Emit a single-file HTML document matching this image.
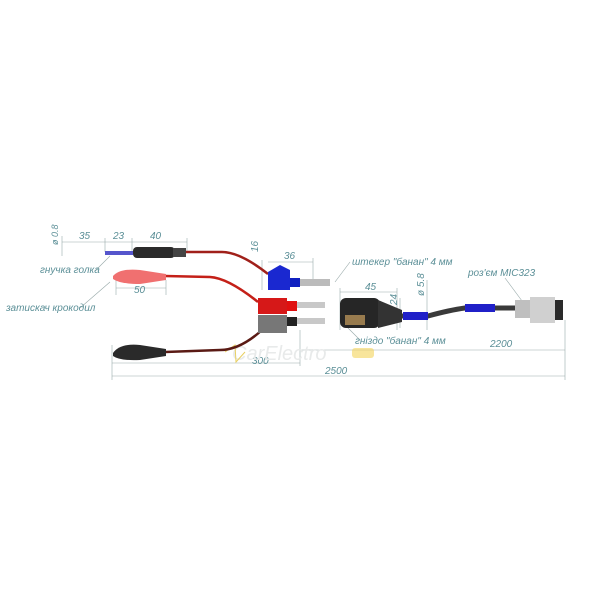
<!DOCTYPE html>
<html><head><meta charset="utf-8"><style>
body{margin:0;background:#fff}
svg{display:block}
text{font-family:"Liberation Sans","DejaVu Sans",sans-serif;font-style:italic;fill:#5b8f97}
</style></head><body>
<svg width="600" height="600" viewBox="0 0 600 600" xmlns="http://www.w3.org/2000/svg">
<g stroke="#9aa" stroke-width="0.6" fill="none">
<line x1="62" y1="242" x2="187" y2="242"/>
<line x1="62" y1="236" x2="62" y2="256"/><line x1="105" y1="238" x2="105" y2="252"/><line x1="132" y1="238" x2="132" y2="252"/><line x1="187" y1="238" x2="187" y2="252"/>
<line x1="116" y1="288" x2="166" y2="288"/><line x1="116" y1="280" x2="116" y2="295"/><line x1="166" y1="280" x2="166" y2="295"/>
<line x1="262" y1="260" x2="262" y2="290"/>
<line x1="268" y1="262" x2="313" y2="262"/><line x1="313" y1="258" x2="313" y2="282"/>
<line x1="340" y1="292" x2="397" y2="292"/><line x1="340" y1="288" x2="340" y2="330"/><line x1="397" y1="288" x2="397" y2="330"/>
<line x1="400" y1="298" x2="400" y2="328"/>
<line x1="427" y1="280" x2="427" y2="330"/>
<line x1="112" y1="363" x2="300" y2="363"/><line x1="300" y1="330" x2="300" y2="366"/>
<line x1="112" y1="345" x2="112" y2="380"/>
<line x1="300" y1="350" x2="565" y2="350"/>
<line x1="112" y1="376" x2="565" y2="376"/><line x1="565" y1="320" x2="565" y2="380"/>
<line x1="95" y1="271" x2="110" y2="256"/><line x1="80" y1="308" x2="110" y2="282"/>
<line x1="350" y1="262" x2="335" y2="282"/><line x1="360" y1="340" x2="345" y2="325"/><line x1="505" y1="278" x2="525" y2="305"/>
</g>
<text x="79" y="239" font-size="10">35</text><text x="113" y="239" font-size="10">23</text><text x="150" y="239" font-size="10">40</text>
<text x="0" y="0" font-size="9" transform="translate(58,245) rotate(-90)">ø 0.8</text>
<text x="134" y="293" font-size="10">50</text>
<text x="0" y="0" font-size="10" transform="translate(258,252) rotate(-90)">16</text>
<text x="284" y="259" font-size="10">36</text>
<text x="365" y="290" font-size="10">45</text>
<text x="0" y="0" font-size="10" transform="translate(397,305) rotate(-90)">24</text>
<text x="0" y="0" font-size="10" transform="translate(424,296) rotate(-90)">ø 5.8</text>
<text x="252" y="364" font-size="10">300</text>
<text x="490" y="347" font-size="10">2200</text>
<text x="325" y="374" font-size="10">2500</text>
<text x="40" y="273" font-size="10">гнучка голка</text>
<text x="6" y="311" font-size="10">затискач крокодил</text>
<text x="352" y="265" font-size="10">штекер "банан" 4 мм</text>
<text x="468" y="276" font-size="10">роз'єм MIC323</text>
<text x="355" y="344" font-size="10">гніздо "банан" 4 мм</text>
<text x="232" y="360" font-size="20" style="fill:#e8eaea">CarElectro</text>
<rect x="352" y="348" width="22" height="10" rx="3" fill="#f3d35a" opacity="0.6"/>
<path d="M225 352 L235 345 L236 362 L245 352" stroke="#e8cf60" fill="none"/>
<!-- wires -->
<g fill="none" stroke-width="2.5">
<path d="M185 252 L222 252 Q240 252 268 274" stroke="#a0201a"/>
<path d="M165 276 L210 277 Q228 278 258 302" stroke="#c42018"/>
<path d="M262 330 Q240 350 220 350 L165 352" stroke="#5a1a14"/>
<path d="M402 316 L428 316 Q450 310 465 308 L515 308" stroke="#3a3a3a" stroke-width="5"/>
</g>
<rect x="403" y="312" width="25" height="8" fill="#2020c8"/>
<path d="M465 304 L495 304 L495 312 L465 312 Z" fill="#2020c8"/>
<!-- pin -->
<rect x="105" y="251" width="28" height="4" fill="#5555cc"/>
<rect x="133" y="247" width="42" height="11" rx="4" fill="#2a2a2a"/>
<rect x="173" y="248" width="13" height="9" fill="#444"/>
<!-- red croc -->
<path d="M113 276 Q120 268 140 270 L166 274 L166 280 L140 284 Q120 284 113 279 Z" fill="#f07070"/>
<!-- black croc -->
<path d="M113 353 Q120 343 140 345 L166 349 L166 356 L140 360 Q120 361 113 356 Z" fill="#2a2a2a"/>
<!-- blue plug -->
<path d="M268 272 L280 265 L290 270 L290 278 L268 290 Z" fill="#1a28d0"/>
<rect x="268" y="276" width="22" height="14" fill="#1a28d0"/>
<rect x="290" y="278" width="10" height="9" fill="#1020c0"/>
<rect x="300" y="279" width="30" height="7" fill="#bbb"/>
<!-- red plug -->
<rect x="258" y="298" width="29" height="16" fill="#d61818"/>
<rect x="287" y="301" width="10" height="10" fill="#e01010"/>
<rect x="297" y="302" width="28" height="6" fill="#c8c8c8"/>
<!-- gray plug -->
<rect x="258" y="315" width="29" height="18" fill="#777"/>
<rect x="287" y="317" width="10" height="9" fill="#222"/>
<rect x="297" y="318" width="28" height="6" fill="#c8c8c8"/>
<!-- socket -->
<rect x="340" y="298" width="40" height="30" rx="6" fill="#262626"/>
<rect x="345" y="315" width="20" height="10" fill="#c9a060" opacity="0.7"/>
<path d="M378 300 L402 310 L402 322 L378 328 Z" fill="#333"/>
<!-- MIC connector -->
<rect x="515" y="300" width="15" height="18" fill="#bfbfbf"/>
<rect x="530" y="297" width="25" height="26" fill="#d0d0d0"/>
<rect x="555" y="300" width="8" height="20" fill="#2a2a2a"/>
</svg>
</body></html>
